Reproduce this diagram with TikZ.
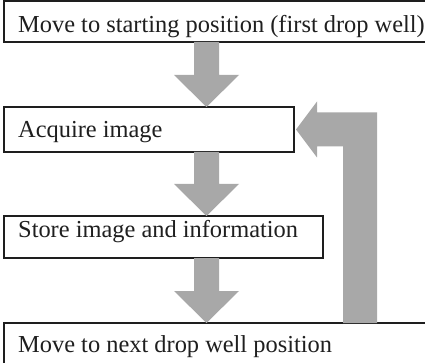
\documentclass[tikz,border=0pt]{standalone}
\usepackage{fontspec}
\setmainfont{Liberation Serif}
\usetikzlibrary{calc}
\definecolor{arrowgray}{RGB}{168,168,168}
\definecolor{edgecol}{RGB}{30,30,30}
\tikzset{
  box/.style={draw=edgecol, line width=1.8pt, inner sep=0pt, outer sep=0pt, anchor=north west},
  lbl/.style={anchor=base west, inner sep=0pt, font=\fontsize{24.4}{28}\selectfont, text=black!88},
  blockarrow/.style={fill=arrowgray, draw=none},
}
\newcommand\downblock[2]{%
  \fill[blockarrow] ($(#1)+(-12.5,0)$) -- ($(#2)+(-12.5,-32)$) -- ($(#2)+(-32.5,-32)$) -- (#2)
    -- ($(#2)+(32.5,-32)$) -- ($(#2)+(12.5,-32)$) -- ($(#1)+(12.5,0)$) -- cycle;}
\begin{document}
\begin{tikzpicture}[x=1pt,y=-1pt]
\useasboundingbox (0,0) rectangle (425,363);
\clip (0,0) rectangle (425,363);
\fill[white] (0,0) rectangle (425,363);
% boxes
\node[box, minimum width=440pt, minimum height=41pt] (b1) at (4,1) {};
\node[box, minimum width=290pt, minimum height=45pt] (b2) at (4,107) {};
\node[box, minimum width=319pt, minimum height=42pt] (b3) at (4,216) {};
\node[box, minimum width=440pt, minimum height=60pt] (b4) at (4,323) {};
% labels
\node[lbl] (t1) at (18,33) {Move to starting position (first drop well)};
\node[lbl] (t2) at (18,138) {Acquire image};
\node[lbl] (t3) at (18,237) {Store image and information};
\node[lbl] (t4) at (18,352) {Move to next drop well position};
% down arrows
\coordinate (ax) at (206.5,0);
\coordinate (a1s) at (b1.south -| ax);
\coordinate (a1t) at (b2.north -| ax);
\coordinate (a2s) at (b2.south -| ax);
\coordinate (a2t) at (b3.north -| ax);
\coordinate (a3s) at (b3.south -| ax);
\coordinate (a3t) at (b4.north -| ax);
\downblock{a1s}{a1t}
\downblock{a2s}{a2t}
\downblock{a3s}{a3t}
% return arrow
\coordinate (rx) at (360,0);
\coordinate (rs) at (b4.north -| rx);
\coordinate (rt) at ($(b2.east)+(2,0)$);
\fill[blockarrow] (rs) ++(-17,0) |- ($(rt)+(21,17)$) -- ++(0,11) -- (rt)
  -- ($(rt)+(21,-28)$) -- ++(0,11) -| ($(rs)+(17,0)$) -- cycle;
\end{tikzpicture}
\end{document}
